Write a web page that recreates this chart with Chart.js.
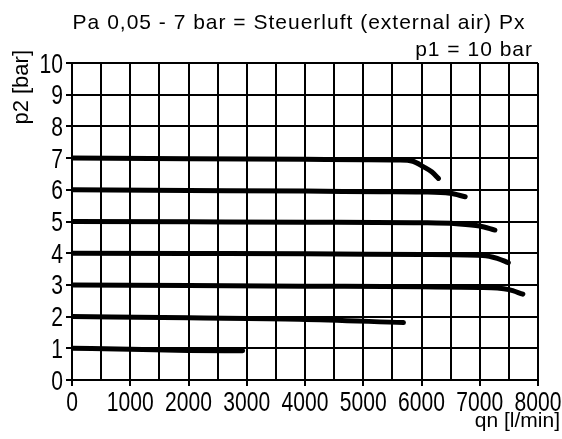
<!DOCTYPE html>
<html>
<head>
<meta charset="utf-8">
<script src="https://cdn.jsdelivr.net/npm/chart.js@4.4.0/dist/chart.umd.min.js"></script>
<style>
  html, body { margin: 0; padding: 0; background: #fff; }
  #wrap { width: 562px; height: 439px; }
</style>
</head>
<body>
<div id="wrap"><canvas id="chart" width="562" height="439"></canvas></div>
<script>
// flow values [l/min] and outlet pressures p2 [bar] per curve
const flow7 = [0, 2000, 4000, 5000, 5600, 5850, 6030, 6180, 6290];
const p7    = [7.0, 6.98, 6.96, 6.95, 6.94, 6.9, 6.73, 6.56, 6.36];
const flow6 = [0, 2000, 4000, 5300, 6000, 6490, 6750];
const p6    = [6.0, 5.98, 5.96, 5.94, 5.93, 5.89, 5.78];
const flow5 = [0, 2000, 4000, 6000, 6600, 7000, 7260];
const p5    = [5.0, 4.99, 4.98, 4.96, 4.93, 4.86, 4.73];
const flow4 = [0, 2000, 4000, 6000, 7050, 7300, 7490];
const p4    = [4.0, 3.99, 3.98, 3.96, 3.93, 3.84, 3.7];
const flow3 = [0, 2000, 4000, 6000, 7000, 7300, 7500, 7740];
const p3    = [3.0, 2.98, 2.96, 2.94, 2.92, 2.9, 2.85, 2.71];
const flow2 = [0, 2000, 3900, 5690];
const p2    = [2.0, 1.96, 1.92, 1.81];
const flow1 = [0, 1000, 2000, 2930];
const p1    = [1.0, 0.97, 0.93, 0.92];

const titleText = 'Pa 0,05 - 7 bar = Steuerluft (external air) Px';
const subText = 'p1 = 10 bar';
const xTitle = 'qn [l/min]';
const yTitle = 'p2 [bar]';

const sans = "'Liberation Sans', Arial, sans-serif";

function pts(xs, ys) {
  return xs.map((x, i) => ({ x: x, y: ys[i] }));
}

const curves = [
  [flow7, p7], [flow6, p6], [flow5, p5], [flow4, p4],
  [flow3, p3], [flow2, p2], [flow1, p1]
];

const datasets = curves.map(c => ({
  data: pts(c[0], c[1]),
  borderColor: '#000',
  borderWidth: 5,
  pointRadius: 0,
  cubicInterpolationMode: 'monotone',
  borderCapStyle: 'round',
  borderJoinStyle: 'round',
  fill: false
}));

// condensed text: no narrow font installed, so squeeze horizontally
function narrowText(ctx, text, x, y, align) {
  ctx.save();
  ctx.translate(x, y);
  ctx.scale(0.78, 1);
  ctx.textAlign = align;
  ctx.fillText(text, 0, 0);
  ctx.restore();
}

// tick labels, titles and axis labels placed like in the drawing
const labelsPlugin = {
  id: 'labels',
  afterDraw(chart) {
    const ctx = chart.ctx;
    const xs = chart.scales.x;
    const ys = chart.scales.y;
    ctx.save();
    ctx.fillStyle = '#000';
    ctx.textBaseline = 'alphabetic';

    ctx.font = '27px ' + sans;
    xs.ticks.forEach(t => {
      if (t.value % 1000 !== 0) return;
      narrowText(ctx, String(t.value), xs.getPixelForValue(t.value), 411, 'center');
    });
    ys.ticks.forEach(t => {
      narrowText(ctx, String(t.value), 63, ys.getPixelForValue(t.value) + 9.5, 'right');
    });

    ctx.font = '21px ' + sans;
    ctx.letterSpacing = '1px';
    ctx.textAlign = 'center';
    ctx.fillText(titleText, 299, 29);
    ctx.textAlign = 'right';
    ctx.fillText(subText, 533, 56);
    ctx.letterSpacing = '0px';

    ctx.font = '21px ' + sans;
    ctx.textAlign = 'right';
    ctx.fillText(xTitle, 560, 427);

    ctx.font = '22px ' + sans;
    ctx.translate(28, 50);
    ctx.rotate(-Math.PI / 2);
    ctx.textAlign = 'right';
    ctx.fillText(yTitle, 0, 0);
    ctx.restore();
  }
};

new Chart(document.getElementById('chart'), {
  type: 'line',
  data: { datasets: datasets },
  plugins: [labelsPlugin],
  options: {
    responsive: false,
    animation: false,
    layout: { padding: { top: 63, right: 24, left: 0, bottom: 0 } },
    plugins: {
      legend: { display: false },
      tooltip: { enabled: false }
    },
    scales: {
      x: {
        type: 'linear',
        min: 0,
        max: 8000,
        afterFit: (axis) => { axis.height = 59; },
        border: { color: '#000', width: 2 },
        grid: {
          color: '#000',
          lineWidth: 2,
          tickLength: 6,
          tickColor: (c) => (c.tick && c.tick.value % 1000 === 0) ? '#000' : 'rgba(0,0,0,0)'
        },
        ticks: {
          display: false,
          stepSize: 500,
          autoSkip: false
        }
      },
      y: {
        min: 0,
        max: 10,
        afterFit: (axis) => { axis.width = 72; },
        border: { color: '#000', width: 2 },
        grid: { color: '#000', lineWidth: 2, tickLength: 6 },
        ticks: {
          display: false,
          stepSize: 1,
          autoSkip: false
        }
      }
    }
  }
});
</script>
</body>
</html>
